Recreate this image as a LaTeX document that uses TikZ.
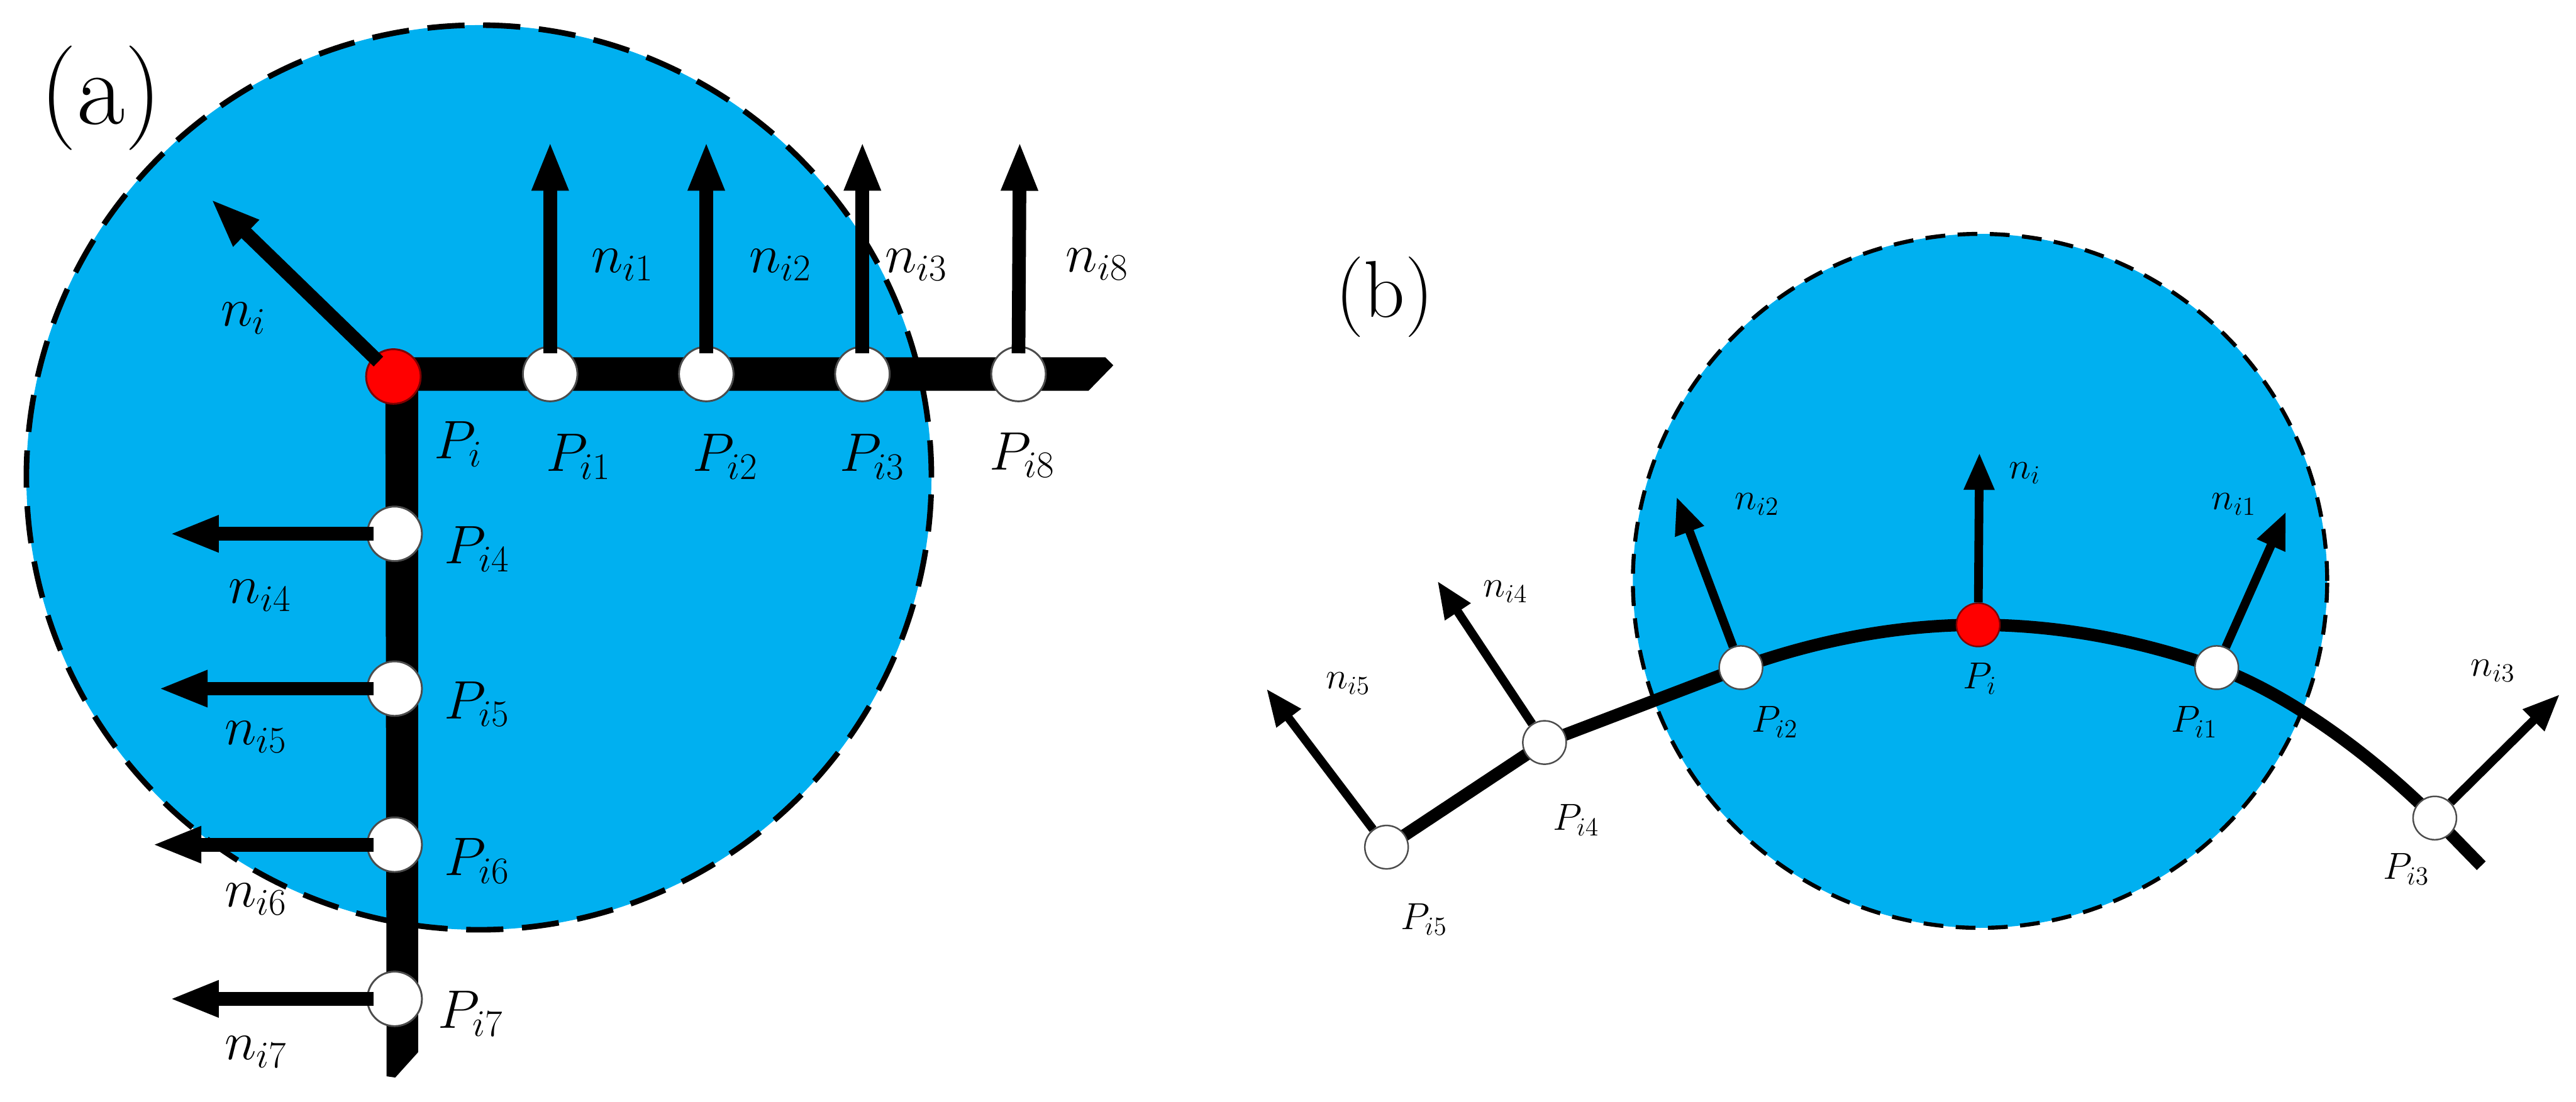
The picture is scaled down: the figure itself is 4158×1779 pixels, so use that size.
\documentclass[tikz,border=0pt]{standalone}
\usetikzlibrary{arrows.meta}
\definecolor{fillblue}{RGB}{0,176,240}
\begin{document}
\begin{tikzpicture}[x=0.01cm,y=-0.01cm,
  anode/.style={circle,draw=black!70,line width=0.03cm,fill=white,minimum size=0.88cm,inner sep=0pt},
  redA/.style={anode,fill=red,draw=red!50!black},
  bnode/.style={circle,draw=black!70,line width=0.025cm,fill=white,minimum size=0.7cm,inner sep=0pt},
  redB/.style={bnode,fill=red,draw=red!50!black},
  arrA/.style={line width=0.22cm,-{Triangle[length=0.8cm,width=0.54cm]}},
  arrB/.style={line width=0.14cm,-{Triangle[length=0.6cm,width=0.46cm]}},
  labA/.style={font=\fontsize{24}{28}\selectfont,inner sep=0pt},
  labB/.style={font=\fontsize{18}{22}\selectfont,inner sep=0pt},
  panel/.style={inner sep=0pt},
  zoneA/.style={fill=fillblue,draw=black,line width=0.09cm,dash pattern=on 0.6cm off 0.3cm},
  zoneB/.style={fill=fillblue,draw=black,line width=0.065cm,dash pattern=on 0.32cm off 0.2cm},
  curveB/.style={line width=0.2cm,line join=round},
]
\useasboundingbox (0,0) rectangle (4158,1779);

% ---------------- panel (a) ----------------
\node[panel,font=\fontsize{48}{56}\selectfont] (la) at (163,158) {(a)};
\draw[zoneA] (773,771) circle[radius=7.3cm];
\fill[black] (622,577) -- (1784,577) -- (1797,590) -- (1757,631) -- (675,631)
  -- (675,1699) -- (638,1740) -- (624,1738) -- cycle;

\node[redA] (A0) at (635,608) {};
\node[anode] (A1) at (888,604) {};
\node[anode] (A2) at (1140,604) {};
\node[anode] (A3) at (1392,604) {};
\node[anode] (A8) at (1644,604) {};
\node[anode] (A4) at (637,862) {};
\node[anode] (A5) at (637,1112) {};
\node[anode] (A6) at (637,1364) {};
\node[anode] (A7) at (637,1613) {};

\coordinate (tA0) at (340,321);
\coordinate (tA1) at (888,228);
\coordinate (tA2) at (1140,228);
\coordinate (tA3) at (1392,228);
\coordinate (tA8) at (1646,228);
\coordinate (tA4) at (273,862);
\coordinate (tA5) at (255,1112);
\coordinate (tA6) at (245,1364);
\coordinate (tA7) at (273,1613);

\draw[arrA] ([xshift=0.08cm,yshift=-0.08cm]A0.north west) -- (tA0);
\draw[arrA] ([yshift=-0.12cm]A1.north) -- (tA1);
\draw[arrA] ([yshift=-0.12cm]A2.north) -- (tA2);
\draw[arrA] ([yshift=-0.12cm]A3.north) -- (tA3);
\draw[arrA] ([yshift=-0.12cm]A8.north) -- (tA8);
\draw[arrA] ([xshift=0.12cm]A4.west) -- (tA4);
\draw[arrA] ([xshift=0.12cm]A5.west) -- (tA5);
\draw[arrA] ([xshift=0.12cm]A6.west) -- (tA6);
\draw[arrA] ([xshift=0.12cm]A7.west) -- (tA7);

\node[labA] (nA0) at (393,514) {$n_i$};
\node[labA] (nA1) at (1005,428) {$n_{i1}$};
\node[labA] (nA2) at (1260,428) {$n_{i2}$};
\node[labA] (nA3) at (1479,428) {$n_{i3}$};
\node[labA] (nA8) at (1771,427) {$n_{i8}$};
\node[labA] (nA4) at (420,962) {$n_{i4}$};
\node[labA] (nA5) at (413,1190) {$n_{i5}$};
\node[labA] (nA6) at (413,1452) {$n_{i6}$};
\node[labA] (nA7) at (413,1699) {$n_{i7}$};

\node[labA] (pA0) at (740,717) {$P_i$};
\node[labA] (pA1) at (934,738) {$P_{i1}$};
\node[labA] (pA2) at (1171,738) {$P_{i2}$};
\node[labA] (pA3) at (1408,738) {$P_{i3}$};
\node[labA] (pA8) at (1650,735) {$P_{i8}$};
\node[labA] (pA4) at (770,887) {$P_{i4}$};
\node[labA] (pA5) at (770,1137) {$P_{i5}$};
\node[labA] (pA6) at (770,1390) {$P_{i6}$};
\node[labA] (pA7) at (760,1637) {$P_{i7}$};

% ---------------- panel (b) ----------------
\node[panel,font=\fontsize{37}{44}\selectfont] (lb) at (2235,480) {(b)};
\draw[zoneB] (3196,938) circle[radius=5.6cm];

\coordinate (cB0) at (3193,1009);
\coordinate (cB1) at (3578,1078);
\coordinate (cB2) at (2810,1078);
\coordinate (cB3) at (3930,1321);
\coordinate (cB4) at (2493,1199);
\coordinate (cB5) at (2238,1368);
\coordinate (cBe) at (4005,1398);

\draw[curveB] (cB5) -- (cB4) -- (cB2)
  .. controls (2930,1035) and (3060,1009) .. (cB0)
  .. controls (3326,1009) and (3456,1035) .. (cB1)
  .. controls (3698,1123) and (3830,1221) .. (cB3)
  -- (cBe);

\node[redB] (B0) at (cB0) {};
\node[bnode] (B1) at (cB1) {};
\node[bnode] (B2) at (cB2) {};
\node[bnode] (B3) at (cB3) {};
\node[bnode] (B4) at (cB4) {};
\node[bnode] (B5) at (cB5) {};

\coordinate (tB0) at (3195,731);
\coordinate (tB1) at (3690,826);
\coordinate (tB2) at (2706,802);
\coordinate (tB3) at (4132,1121);
\coordinate (tB4) at (2320,938);
\coordinate (tB5) at (2044,1112);

\draw[arrB] (B0) -- (tB0);
\draw[arrB] (B1) -- (tB1);
\draw[arrB] (B2) -- (tB2);
\draw[arrB] (B3) -- (tB3);
\draw[arrB] (B4) -- (tB4);
\draw[arrB] (B5) -- (tB5);

\node[labB] (nB0) at (3268,764) {$n_i$};
\node[labB] (nB1) at (3606,814) {$n_{i1}$};
\node[labB] (nB2) at (2836,814) {$n_{i2}$};
\node[labB] (nB3) at (4024,1083) {$n_{i3}$};
\node[labB] (nB4) at (2430,955) {$n_{i4}$};
\node[labB] (nB5) at (2176,1104) {$n_{i5}$};

\node[labB] (pB0) at (3196,1096) {$P_i$};
\node[labB] (pB1) at (3542,1166) {$P_{i1}$};
\node[labB] (pB2) at (2865,1166) {$P_{i2}$};
\node[labB] (pB3) at (3884,1403) {$P_{i3}$};
\node[labB] (pB4) at (2544,1324) {$P_{i4}$};
\node[labB] (pB5) at (2299,1485) {$P_{i5}$};
\end{tikzpicture}
\end{document}
